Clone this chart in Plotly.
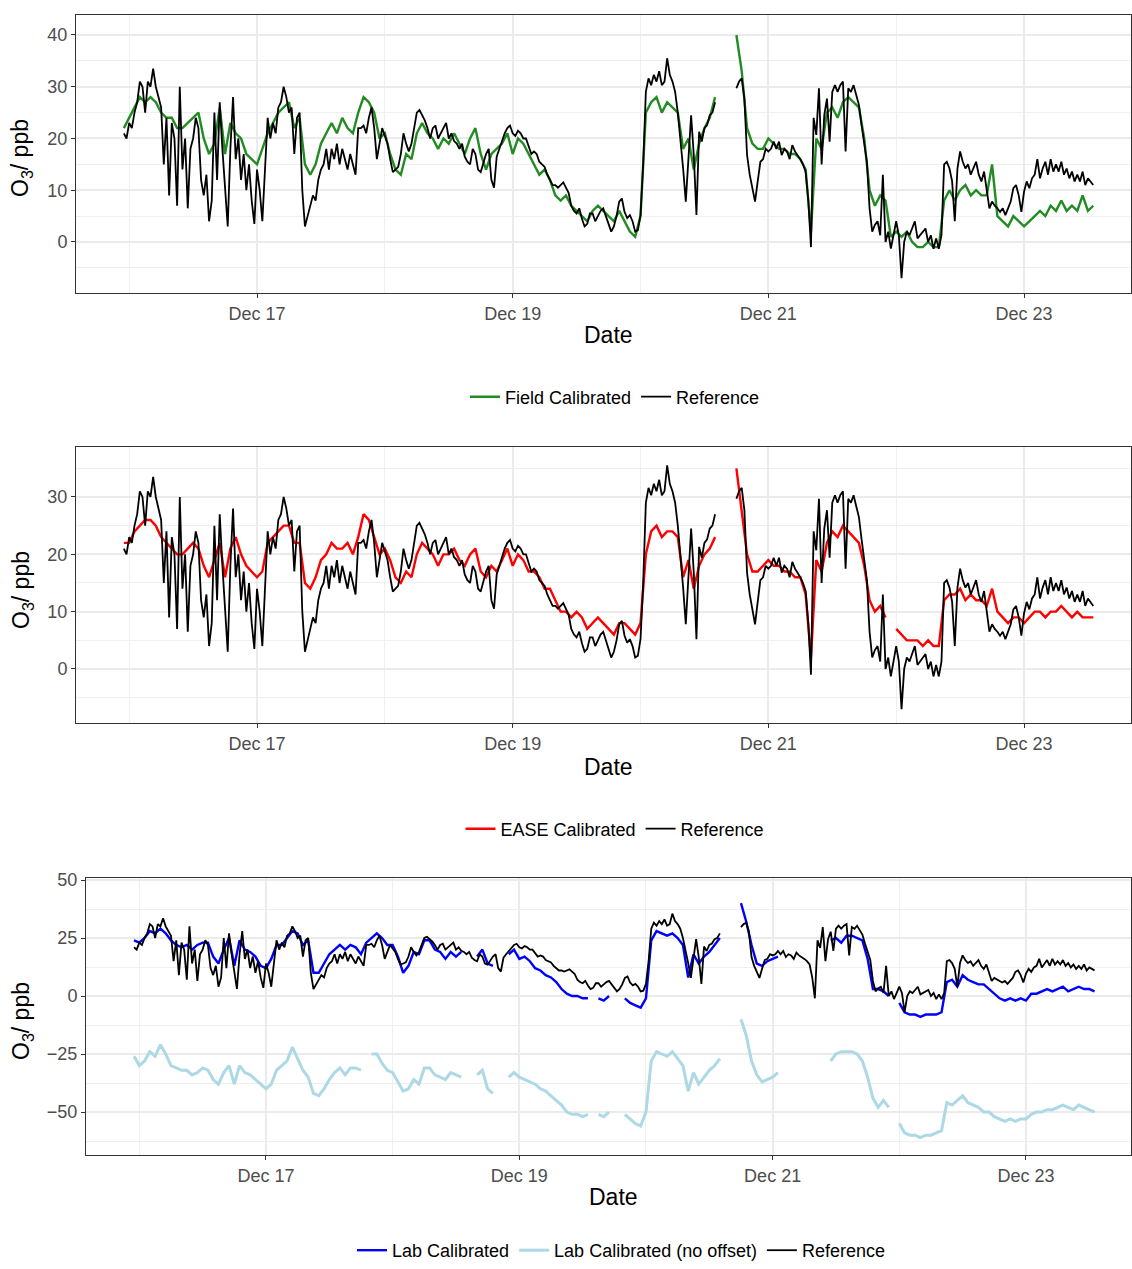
import plotly.graph_objects as go
import pandas as pd

START = "2015-12-15 23:00"

# Reference O3 (ppb), 30-minute readings from START
reference = [
    21, 20, 23, 22, 25, 27, 31, 30, 25, 31,
    30, 33.5, 30, 28, 26, 15, 24, 9, 23, 20,
    7, 30, 14, 20, 6.5, 18, 20, 24, 22, 12,
    9, 13, 4, 8, 25, 12, 27, 18, 10, 3,
    18, 28, 16, 20, 12, 17, 10, 15, 8, 3.5,
    14, 10, 4, 15, 24, 20, 23, 21, 26, 27,
    30, 28, 25, 26, 17, 24, 25, 10, 3, 5,
    7, 9, 8, 12, 14, 15, 18, 14, 18, 16,
    19, 15, 18, 16, 14, 17, 15, 13, 22, 22,
    22.5, 21, 24, 26, 22, 16, 19, 22, 20.5, 19,
    16, 13.5, 14, 14.5, 17, 21, 19, 17.5, 19, 22,
    25, 25.5, 24.5, 23.5, 22, 20, 22, 22.5, 20, 21,
    22, 23, 20, 21, 19.5, 19, 18, 19, 16.5, 15.5,
    15, 18, 17, 14, 13.5, 15.5, 17, 18, 12, 10.5,
    16.5, 18, 19.5, 21, 22, 22.5, 21, 20.5, 21.5, 21,
    20, 20, 18.5, 17, 17.5, 17, 15.5, 15, 14.5, 13,
    12, 11, 11, 10.5, 11, 11.5, 10.5, 9.5, 7, 6,
    5.5, 6.5, 4.5, 3, 3.5, 5.5, 5.5, 4, 5, 6,
    6.5, 5, 3.5, 2, 3, 5, 7.8, 8.4, 5.8, 4.6,
    5.2, 4, 2, 2.3, 5.2, 15, 29, 31.6, 30.3, 32.3,
    31, 33, 30.3, 31, 35.5, 32.3, 31, 29, 25, 20,
    14.2, 7.8, 16.8, 24.5, 16.8, 5.2, 21.3, 19.4, 22, 22.6,
    24.5, 25, 27, None, None, None, None, None, None, None,
    29.7, 31, 31.6, 27.7, 16.8, 13, 10.4, 7.8, 11.7, 15.5,
    16, 18, 17.5, 18, 19.4, 18, 19.4, 16.8, 18, 17.5,
    16, 18.7, 17.5, 16.8, 16, 15, 13.6, 8, -1, 24,
    20.7, 29.7, 15, 24.5, 27.7, 19.4, 29, 30.3, 29, 30.3,
    31, 17.5, 29.7, 29, 30.3, 28.4, 26.5, 22.6, 19.4, 15.5,
    6.5, 2, 3.3, 4, 1.3, 13, 0, 2, -1.3, 1.3,
    4, 1.3, -7, 0, 2, 1.3, 2.6, 4, 0.7, 1.3,
    2, 2.6, 0, 1.3, -1.3, 0.7, -1.3, 1.3, 15, 15.5,
    14.2, 11.7, 4, 14.2, 17.5, 15.5, 14.2, 15, 13, 14.2,
    15.5, 13, 11.7, 13.6, 10.4, 6.5, 7.8, 7, 6.5, 5.8,
    6.5, 5.2, 6.5, 7.8, 10.4, 11, 9, 5.8, 9.7, 11.7,
    10.4, 12.3, 13, 16, 12.3, 14.2, 15.5, 13, 16, 13.6,
    15, 13.6, 15.5, 13, 14.2, 12.3, 13.6, 11.7, 13, 11.7,
    13.6, 11, 12.3, 11.7, 11,
]

# Hourly readings from START
field_calibrated = [
    22, 24, 26, 28, 27, 28, 27, 25, 24, 24,
    22, 22, 23, 24, 25, 20, 17, 19, 26, 17,
    23, 21, 20, 17, 16, 15, 18, 21, 23, 25,
    26, 27, 22, 24, 15, 13, 15, 19, 21, 23,
    21, 24, 22, 21, 25, 28, 27, 25, 20, 21,
    17, 14, 13, 17, 16, 21, 23, 21, 20, 18,
    20, 19, 21, 19, 17, 20, 22, 17, 14, 17,
    18, 19, 21, 17, 20, 19, 17, 15, 13, 14,
    12, 9, 8, 9, 7, 6, 5, 4, 6, 7,
    6, 5, 4, 6, 4, 2, 1, 5, 25, 27,
    28, 25, 27, 26, 25, 18, 20, 14, 19, 22,
    24, 28, None, None, None, 40, 33, 22, 19, 18,
    18, 20, 19, 18, 18, 17, 17, 16, 14, 2,
    20, 18, 25, 26, 24, 27, 28, 27, 26, 20,
    10, 7, 9, 8, 1, 2, 1, 2, 0, -1,
    -1, 0, -1, -1, 8, 10, 8, 10, 11, 9,
    10, 9, 9, 15, 5, 4, 3, 5, 4, 3,
    4, 5, 6, 5, 7, 6, 8, 6, 7, 6,
    9, 6, 7,
]

ease_calibrated = [
    22, 22, 24, 25, 26, 26, 25, 23, 22, 21,
    20, 20, 21, 22, 21, 18, 16, 19, 22, 16,
    21, 23, 20, 18, 17, 16, 17, 22, 23, 24,
    25, 25, 22, 22, 15, 14, 16, 19, 20, 22,
    21, 21, 22, 20, 23, 27, 26, 23, 20, 21,
    19, 16, 15, 17, 16, 20, 22, 21, 20, 18,
    20, 20, 21, 19, 18, 20, 21, 17, 16, 18,
    17, 19, 21, 18, 20, 19, 17, 17, 16, 14,
    14, 12, 10, 10, 9, 10, 9, 7, 8, 9,
    8, 7, 6, 8, 8, 7, 6, 8, 20, 24,
    25, 23, 24, 24, 23, 16, 19, 14, 18, 20,
    21, 23, None, None, None, 35, 28, 20, 17, 17,
    18, 19, 18, 18, 17, 17, 16, 16, 13, 2,
    19, 17, 22, 24, 23, 25, 24, 23, 22, 18,
    12, 10, 11, 9, None, 7, 6, 5, 5, 5,
    4, 5, 4, 4, 12, 13, 13, 14, 12, 13,
    12, 12, 11, 14, 10, 9, 8, 9, 9, 8,
    9, 10, 10, 9, 10, 10, 11, 10, 9, 10,
    9, 9, 9,
]

lab_calibrated = [
    24, 23, 25, 28, 27, 29, 27, 24, 22, 21,
    22, 20, 22, 23, 23, 17, 14, 20, 25, 13,
    24, 20, 19, 17, 13, 12, 16, 22, 22, 25,
    28, 27, 22, 24, 10, 10, 14, 18, 20, 22,
    20, 22, 21, 18, 23, 25, 27, 25, 22, 22,
    17, 10, 13, 19, 18, 24, 24, 20, 19, 16,
    19, 17, 19, None, None, 17, 20, 14, 13, None,
    None, 18, 20, 16, 17, 15, 12, 11, 9, 8,
    6, 3, 1, 0, 0, -1, -1, None, -1, -2,
    0, None, None, -1, -3, -4, -5, -1, 24, 28,
    27, 26, 27, 25, 22, 8, 18, 14, 17, 19,
    22, 25, None, None, None, 40, 32, 22, 14, 13,
    15, 16, 17, None, None, None, None, None, None, None,
    None, None, 24, 25, 23, 26, 26, 25, 24, 16,
    3, 3, 2, 0, None, -3, -7, -8, -8, -9,
    -8, -8, -8, -7, 6, 7, 4, 9, 7, 6,
    5, 5, 3, 1, -1, -2, -1, -2, -1, -2,
    1, 1, 2, 3, 2, 3, 4, 2, 3, 4,
    3, 3, 2,
]

lab_calibrated_no_offset = [
    -26, -30, -28, -24, -26, -21, -25, -30, -31, -32,
    -32, -34, -33, -31, -32, -36, -38, -33, -30, -38,
    -30, -33, -34, -36, -38, -40, -38, -32, -30, -28,
    -22, -27, -32, -35, -42, -43, -40, -36, -33, -31,
    -34, -31, -31, -32, None, -25, -25, -29, -32, -33,
    -37, -41, -40, -36, -38, -31, -31, -34, -35, -36,
    -33, -34, -35, None, None, -34, -32, -40, -42, None,
    None, -35, -33, -35, -36, -37, -38, -40, -41, -43,
    -45, -47, -50, -51, -51, -52, -51, None, -51, -52,
    -50, None, None, -51, -53, -55, -56, -50, -28, -24,
    -25, -26, -24, -27, -30, -41, -33, -38, -35, -32,
    -30, -27, None, None, None, -10, -17, -28, -34, -37,
    -36, -35, -33, None, None, None, None, None, None, None,
    None, None, -28, -25, -24, -24, -24, -25, -28, -35,
    -44, -48, -45, -48, None, -55, -59, -60, -60, -61,
    -60, -60, -59, -58, -46, -47, -45, -43, -46, -47,
    -48, -50, -50, -52, -53, -54, -53, -54, -53, -53,
    -51, -50, -50, -49, -49, -48, -47, -48, -49, -47,
    -48, -49, -50,
]

t_ref = pd.date_range(START, periods=len(reference), freq="30min")
t_field = pd.date_range(START, periods=len(field_calibrated), freq="60min")
t_ease = pd.date_range(START, periods=len(ease_calibrated), freq="60min")
t_lab = pd.date_range(START, periods=len(lab_calibrated), freq="60min")
t_lab0 = pd.date_range(START, periods=len(lab_calibrated_no_offset), freq="60min")

FONT = "Liberation Sans, Arial, sans-serif"
W, H = 1132, 1269

fig = go.Figure()


def add(x, y, name, color, n, legend, width):
    sx = "" if n == 1 else str(n)
    fig.add_trace(go.Scatter(
        x=x, y=y, mode="lines", name=name,
        line=dict(color=color, width=width),
        xaxis="x" + sx, yaxis="y" + sx, legend=legend,
        connectgaps=False, hoverinfo="skip",
    ))


add(t_field, field_calibrated, "Field Calibrated", "#228B22", 1, "legend", 2.4)
add(t_ref, reference, "Reference", "black", 1, "legend", 1.8)
add(t_ease, ease_calibrated, "EASE Calibrated", "#FF0000", 2, "legend2", 2.4)
add(t_ref, reference, "Reference", "black", 2, "legend2", 1.8)
add(t_lab, lab_calibrated, "Lab Calibrated", "#0000FF", 3, "legend3", 2.4)
add(t_lab0, lab_calibrated_no_offset, "Lab Calibrated (no offset)", "#ADD8E6", 3, "legend3", 3.0)
add(t_ref, reference, "Reference", "black", 3, "legend3", 1.8)


def xaxis(domain, rng, anchor):
    return dict(
        domain=domain, type="date", range=rng, anchor=anchor,
        tick0="2015-12-17", dtick=2 * 86400000, tickformat="%b %d",
        ticks="outside", ticklen=4, tickwidth=1, tickcolor="#333333",
        tickfont=dict(family=FONT, size=18, color="#4D4D4D"),
        showgrid=True, gridcolor="#EBEBEB", gridwidth=1.6,
        minor=dict(tick0="2015-12-16", dtick=86400000, showgrid=True,
                   gridcolor="#EFEFEF", gridwidth=0.9),
        showline=True, mirror=True, linecolor="#333333", linewidth=1,
        zeroline=False, automargin=False, fixedrange=True,
    )


def yaxis(domain, rng, dtick, anchor):
    return dict(
        domain=domain, range=rng, tick0=0, dtick=dtick, anchor=anchor,
        ticks="outside", ticklen=4, tickwidth=1, tickcolor="#333333",
        tickfont=dict(family=FONT, size=18, color="#4D4D4D"),
        showgrid=True, gridcolor="#EBEBEB", gridwidth=1.6,
        minor=dict(tick0=0, dtick=dtick / 2, showgrid=True,
                   gridcolor="#EFEFEF", gridwidth=0.9),
        showline=True, mirror=True, linecolor="#333333", linewidth=1,
        zeroline=False, automargin=False, fixedrange=True,
    )


def py(pix):
    return 1 - pix / H


x12 = [76 / W, 1131 / W]
x3 = [86 / W, 1131 / W]
XR12 = ["2015-12-15 14:01", "2015-12-23 20:05"]
XR3 = ["2015-12-15 13:54", "2015-12-23 19:54"]

xa1 = xaxis(x12, XR12, "y")
xa2 = xaxis(x12, XR12, "y2")
xa3 = xaxis(x3, XR3, "y3")
ya1 = yaxis([py(293), py(15)], [-9.86, 43.86], 10, "x")
ya2 = yaxis([py(723), py(447)], [-9.42, 38.72], 10, "x2")
ya3 = yaxis([py(1155), py(878)], [-68.53, 50.86], 25, "x3")


def legend(xc, y, yanchor="middle"):
    return dict(
        orientation="h", x=xc, xanchor="center", y=y, yanchor=yanchor,
        font=dict(family=FONT, size=18, color="black"),
        bgcolor="rgba(0,0,0,0)", itemwidth=30, traceorder="normal",
    )


annotations = []
for xc, ypix in [(608 / W, 335), (608 / W, 767), (613 / W, 1197)]:
    annotations.append(dict(text="Date", x=xc, y=py(ypix), xref="paper", yref="paper",
                            showarrow=False, xanchor="center", yanchor="middle",
                            font=dict(family=FONT, size=23, color="black")))
for ypix in [158, 590, 1021]:
    annotations.append(dict(text="O<sub>3</sub>/ ppb", x=22 / W, y=py(ypix),
                            xref="paper", yref="paper", textangle=-90,
                            showarrow=False, xanchor="center", yanchor="middle",
                            font=dict(family=FONT, size=23, color="black")))

fig.update_layout(
    width=W, height=H, margin=dict(l=0, r=0, t=0, b=0),
    paper_bgcolor="white", plot_bgcolor="white", template="none",
    font=dict(family=FONT, color="black"),
    xaxis=xa1, xaxis2=xa2, xaxis3=xa3,
    yaxis=ya1, yaxis2=ya2, yaxis3=ya3,
    legend=legend(615 / W, py(397)),
    legend2=legend(615 / W, py(829)),
    legend3=legend(621 / W, 0.0, "bottom"),
    annotations=annotations,
    showlegend=True,
)

fig.write_html("out.html")
